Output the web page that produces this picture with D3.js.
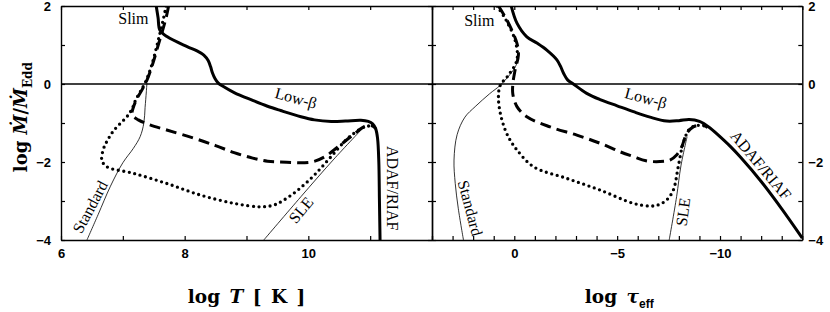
<!DOCTYPE html>
<html><head><meta charset="utf-8">
<script src="https://cdn.jsdelivr.net/npm/d3@7"></script>
<style>
body{margin:0;background:#fff;}
svg{display:block;}
.tick text{font-family:"Liberation Sans",Arial,sans-serif;font-weight:bold;font-size:13px;fill:#000;}
.lbl{font-family:"Liberation Serif","Times New Roman",serif;font-size:16px;fill:#000;}
.ttl{font-family:"DejaVu Serif",serif;font-weight:bold;fill:#000;}
</style></head>
<body>
<svg id="c" width="830" height="312"></svg>
<script>
// ---------------- data ----------------
const yTickValues = [-4,-3,-2,-1,0,1,2];
const yTickLabels = [-4,-2,0,2];
const tTickValues = [6,7,8,9,10,11,12];
const tTickLabels = [6,8,10];
const tauTickValues = d3.range(4,-15,-1);
const tauTickLabels = [0,-5,-10];

// left panel : log T vs log Mdot
const lowBetaT = [[7.54,2],[7.57,1.7],[7.60,1.38],[7.72,1.21],[8.04,0.96],[8.20,0.85],[8.31,0.74],[8.38,0.6],[8.42,0.44],[8.45,0.28],[8.49,0.14],[8.54,0.03],[8.62,-0.06],[8.80,-0.22],[9.1,-0.42],[9.34,-0.57],[9.55,-0.68],[9.88,-0.84],[10.10,-0.92],[10.37,-0.96],[10.6,-0.95],[10.85,-0.93],[10.97,-0.96],[11.04,-1.02],[11.09,-1.15],[11.12,-1.4],[11.14,-2.0],[11.15,-3],[11.16,-4]];
const dashedT = [[7.74,2],[7.70,1.7],[7.63,1.3],[7.58,1.04],[7.48,0.5],[7.39,0.10],[7.31,-0.15],[7.22,-0.4],[7.17,-0.6],[7.15,-0.79],[7.25,-0.92],[7.44,-1.05],[7.71,-1.18],[8.15,-1.39],[8.5,-1.58],[8.80,-1.76],[9.1,-1.9],[9.34,-1.98],[9.55,-2.0],[10.05,-2.0],[10.26,-1.87],[10.48,-1.61],[10.75,-1.27],[10.91,-1.09],[11.03,-1.07],[11.09,-1.14]];
const dottedT = [[7.70,2],[7.66,1.7],[7.60,1.3],[7.56,1.04],[7.47,0.5],[7.38,0.10],[7.30,-0.15],[7.21,-0.4],[7.16,-0.6],[7.09,-0.79],[6.85,-1.2],[6.75,-1.45],[6.69,-1.65],[6.66,-1.95],[6.74,-2.12],[7.17,-2.29],[7.71,-2.55],[8.26,-2.85],[8.80,-3.06],[9.23,-3.15],[9.45,-3.10],[9.6,-2.98],[9.83,-2.72],[10.10,-2.33],[10.37,-1.86],[10.64,-1.39],[10.91,-1.10],[11.03,-1.07]];
const standardT = [[6.42,-4],[6.6,-3.35],[6.80,-2.62],[7.0,-2.02],[7.17,-1.65],[7.28,-1.35],[7.34,-1.0],[7.36,-0.6],[7.38,-0.2],[7.39,0.03]];
const sleT = [[9.28,-4],[9.88,-2.89],[10.4,-1.95],[10.9,-1.1]];

// right panel : log tau_eff vs log Mdot
const lowBetaTau = [[0.15,2],[-0.13,1.56],[-0.61,1.21],[-1.1,1.05],[-1.58,0.87],[-2.07,0.62],[-2.25,0.45],[-2.4,0.27],[-2.6,0.1],[-2.87,0.0],[-3.52,-0.24],[-4.17,-0.4],[-5.0,-0.56],[-5.79,-0.71],[-6.6,-0.85],[-7.4,-0.95],[-8.0,-0.94],[-8.5,-0.91],[-9.0,-0.96],[-9.5,-1.12],[-9.85,-1.28],[-10.5,-1.6],[-11.0,-1.88],[-12.0,-2.5],[-13.0,-3.2],[-14,-3.95]];
const dashedTau = [[0.77,2],[0.36,1.64],[-0.13,1.04],[-0.20,0.74],[-0.04,0.36],[0.07,0],[0.07,-0.26],[-0.13,-0.58],[-0.61,-0.84],[-1.74,-1.1],[-3.04,-1.31],[-4.17,-1.52],[-5.2,-1.75],[-5.79,-1.86],[-6.4,-1.97],[-7.08,-1.99],[-7.57,-1.95],[-7.89,-1.82],[-8.14,-1.61],[-8.38,-1.27],[-8.70,-1.10],[-9.18,-1.05],[-9.4,-1.12]];
const dottedTau = [[0.84,2],[0.40,1.64],[-0.05,1.1],[-0.13,0.62],[0.28,0.23],[0.68,-0.03],[0.77,-0.33],[0.68,-0.75],[0.44,-1.18],[0.20,-1.44],[-0.13,-1.69],[-0.93,-2.12],[-2.55,-2.42],[-4.17,-2.72],[-5.79,-3.06],[-6.6,-3.13],[-7.0,-3.10],[-7.41,-2.97],[-7.73,-2.72],[-7.97,-2.12],[-8.21,-1.52],[-8.54,-1.14],[-8.94,-1.06],[-9.3,-1.08]];
const standardTau = [[2.47,-4],[2.72,-3.2],[2.87,-2.55],[2.93,-1.95],[2.78,-1.3],[2.4,-0.85],[1.9,-0.58],[1.2,-0.25],[0.68,-0.03],[0.04,0.36],[-0.13,0.53]];
const sleTau = [[-7.53,-4],[-7.89,-2.89],[-8.1,-2.1],[-8.4,-1.35]];

const labelsT = [
  {t:"Slim", x:7.17, y:1.69, r:0},
  {t:"Low-β", x:9.80, y:-0.36, r:15},
  {t:"ADAF/RIAF", x:11.36, y:-2.67, r:90},
  {t:"Standard", x:6.47, y:-3.15, r:-62},
  {t:"SLE", x:9.88, y:-3.23, r:-50}
];
const labelsTau = [
  {t:"Slim", x:1.70, y:1.64, r:0},
  {t:"Low-β", x:-6.40, y:-0.36, r:15},
  {t:"ADAF/RIAF", x:-11.99, y:-2.08, r:50},
  {t:"Standard", x:2.14, y:-3.18, r:75},
  {t:"SLE", x:-8.2, y:-3.28, r:-82}
];

// ---------------- drawing ----------------
const svg = d3.select("#c");
const yTop = 6, yBot = 240;
const xL0 = 61, xMid = 432, xR1 = 802.3;

const y = d3.scaleLinear().domain([-4,2]).range([yBot, yTop]);
const xT = d3.scaleLinear().domain([6,12]).range([xL0, xMid]);
const xTau = d3.scaleLinear().domain([4,-14]).range([xMid, xR1]);

const defs = svg.append("defs");
defs.append("clipPath").attr("id","clipL").append("rect")
  .attr("x",xL0).attr("y",yTop).attr("width",xMid-xL0).attr("height",yBot-yTop);
defs.append("clipPath").attr("id","clipR").append("rect")
  .attr("x",xMid).attr("y",yTop).attr("width",xR1-xMid).attr("height",yBot-yTop);

function fmtOnly(list){ const f = d3.format("d"); return v => list.includes(v) ? f(v) : ""; }

function styleAxis(g){
  g.selectAll("path.domain").attr("stroke","#000").attr("stroke-width",1.4);
  g.selectAll(".tick line").attr("stroke","#000").attr("stroke-width",1.2);
}

// zero line
svg.append("line").attr("x1",xL0).attr("x2",xR1).attr("y1",y(0)).attr("y2",y(0))
  .attr("stroke","#000").attr("stroke-width",1.3);

// left panel axes
svg.append("g").attr("transform",`translate(0,${yBot})`)
  .call(d3.axisBottom(xT).tickValues(tTickValues).tickSize(-4).tickSizeOuter(0).tickPadding(9).tickFormat(fmtOnly(tTickLabels))).call(styleAxis);
svg.append("g").attr("transform",`translate(0,${yTop})`)
  .call(d3.axisTop(xT).tickValues(tTickValues).tickSize(-4).tickSizeOuter(0).tickFormat("")).call(styleAxis);
svg.append("g").attr("transform",`translate(${xL0},0)`)
  .call(d3.axisLeft(y).tickValues(yTickValues).tickSize(-4).tickSizeOuter(0).tickPadding(10).tickFormat(fmtOnly(yTickLabels))).call(styleAxis);
svg.append("g").attr("transform",`translate(${xMid},0)`)
  .call(d3.axisRight(y).tickValues(yTickValues).tickSize(-4).tickSizeOuter(0).tickFormat("")).call(styleAxis);

// right panel axes
svg.append("g").attr("transform",`translate(0,${yBot})`)
  .call(d3.axisBottom(xTau).tickValues(tauTickValues).tickSize(-4).tickSizeOuter(0).tickPadding(9).tickFormat(fmtOnly(tauTickLabels))).call(styleAxis);
svg.append("g").attr("transform",`translate(0,${yTop})`)
  .call(d3.axisTop(xTau).tickValues(tauTickValues).tickSize(-4).tickSizeOuter(0).tickFormat("")).call(styleAxis);
svg.append("g").attr("transform",`translate(${xMid},0)`)
  .call(d3.axisLeft(y).tickValues(yTickValues).tickSize(-4).tickSizeOuter(0).tickFormat("")).call(styleAxis);
svg.append("g").attr("transform",`translate(${xR1},0)`)
  .call(d3.axisRight(y).tickValues(yTickValues).tickSize(-4).tickSizeOuter(0).tickPadding(6).tickFormat(fmtOnly(yTickLabels))).call(styleAxis);

svg.selectAll(".tick text").attr("font-family",null).attr("font-size",null);

const styles = {
  thick:{w:3, dash:null, cap:"butt"},
  dashed:{w:3, dash:"11 6", cap:"butt"},
  dotted:{w:3.3, dash:"0 5.6", cap:"round"},
  thin:{w:0.8, dash:null, cap:"butt"}
};

function drawPanel(x, clip, series, labels){
  const g = svg.append("g").attr("clip-path",`url(#${clip})`);
  const line = d3.line().x(d=>x(d[0])).y(d=>y(d[1])).curve(d3.curveCatmullRom.alpha(0.5));
  series.forEach(s=>{
    const st = styles[s.style];
    g.append("path").attr("d",line(s.data)).attr("fill","none").attr("stroke","#000")
      .attr("stroke-width",st.w).attr("stroke-dasharray",st.dash).attr("stroke-linecap",st.cap)
      .attr("stroke-linejoin","round");
  });
  labels.forEach(l=>{
    svg.append("text").attr("class","lbl")
      .attr("transform",`translate(${x(l.x)},${y(l.y)}) rotate(${l.r})`)
      .attr("text-anchor","middle").attr("dominant-baseline","central").text(l.t);
  });
}

drawPanel(xT,"clipL",[
  {data:standardT, style:"thin"},
  {data:sleT, style:"thin"},
  {data:dottedT, style:"dotted"},
  {data:dashedT, style:"dashed"},
  {data:lowBetaT, style:"thick"}
], labelsT);
drawPanel(xTau,"clipR",[
  {data:standardTau, style:"thin"},
  {data:sleTau, style:"thin"},
  {data:dottedTau, style:"dotted"},
  {data:dashedTau, style:"dashed"},
  {data:lowBetaTau, style:"thick"}
], labelsTau);

// axis titles
const t1 = svg.append("text").attr("class","ttl").attr("font-size",18.5)
  .attr("x",xT(9)).attr("y",303).attr("text-anchor","middle").attr("word-spacing",3);
t1.append("tspan").text("log ");
t1.append("tspan").attr("font-style","italic").text("T");
t1.append("tspan").text(" [ K ]");

const t2 = svg.append("text").attr("class","ttl").attr("font-size",18.5)
  .attr("x",xTau(-5.1)).attr("y",303).attr("text-anchor","middle").attr("word-spacing",3);
t2.append("tspan").text("log ");
t2.append("tspan").attr("font-style","italic").text("τ");
t2.append("tspan").attr("font-family","Liberation Sans, sans-serif").attr("font-size",12).attr("dy",5).text("eff");

const t3 = svg.append("text").attr("class","ttl").attr("font-size",18)
  .attr("transform",`translate(27,${y(-0.85)}) rotate(-90)`).attr("text-anchor","middle");
t3.append("tspan").text("log ");
t3.append("tspan").attr("font-style","italic").text("Ṁ");
t3.append("tspan").text("/");
t3.append("tspan").attr("font-style","italic").text("Ṁ");
t3.append("tspan").attr("font-size",12).attr("dy",5).text("Edd");
</script>
</body></html>
